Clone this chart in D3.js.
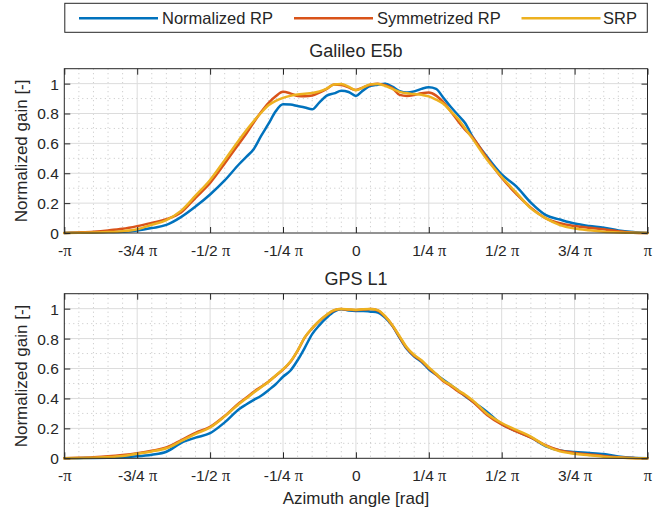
<!DOCTYPE html>
<html><head><meta charset="utf-8">
<script src="https://cdn.jsdelivr.net/npm/d3@7"></script>
<style>
body{margin:0;background:#fff}
text{font-family:"Liberation Sans",Arial,sans-serif;fill:#262626;white-space:pre}
</style>
</head><body><svg id="c" width="665" height="514"></svg>
<script>
// ---------------- data ----------------
const seriesNames = ["Normalized RP", "Symmetrized RP", "SRP"];
const panelTitles = ["Galileo E5b", "GPS L1"];
// azimuth in units of pi
const azimuth = [-1.00,-0.95,-0.90,-0.85,-0.80,-0.75,-0.70,-0.65,-0.60,-0.55,-0.50,-0.45,-0.40,
  -0.375,-0.35,-0.325,-0.30,-0.275,-0.25,-0.225,-0.20,-0.175,-0.15,-0.125,-0.10,-0.075,-0.05,-0.025,
  0,0.025,0.05,0.075,0.10,0.125,0.15,0.175,0.20,0.225,0.25,0.275,0.30,0.325,0.35,0.375,
  0.40,0.45,0.50,0.55,0.60,0.65,0.70,0.75,0.80,0.85,0.90,0.95,1.00];
const galNorm = [0,0.002,0.004,0.006,0.009,0.017,0.033,0.054,0.106,0.177,0.258,0.352,0.462,
  0.511,0.563,0.65,0.73,0.815,0.862,0.86,0.85,0.84,0.828,0.875,0.92,0.935,0.952,0.944,
  0.918,0.955,0.985,0.993,1.0,0.98,0.95,0.94,0.948,0.965,0.975,0.965,0.905,0.845,0.79,0.735,
  0.645,0.51,0.392,0.312,0.203,0.121,0.09,0.063,0.047,0.036,0.017,0.006,0];
const galSym = [0,0.004,0.009,0.017,0.028,0.046,0.068,0.092,0.137,0.236,0.335,0.465,0.601,
  0.668,0.742,0.81,0.87,0.915,0.945,0.935,0.918,0.916,0.92,0.94,0.965,0.995,0.99,0.975,
  0.957,0.975,0.993,1.0,0.99,0.97,0.925,0.918,0.925,0.935,0.94,0.92,0.875,0.815,0.75,0.69,
  0.64,0.5,0.37,0.262,0.17,0.10,0.065,0.047,0.035,0.025,0.012,0.002,0];
const galSrp = [0,0.001,0.003,0.006,0.012,0.025,0.055,0.087,0.148,0.25,0.355,0.488,0.625,
  0.69,0.75,0.805,0.855,0.885,0.905,0.918,0.927,0.932,0.937,0.948,0.967,0.995,0.997,0.98,
  0.956,0.975,0.995,0.998,0.985,0.965,0.945,0.935,0.93,0.925,0.915,0.893,0.865,0.815,0.765,0.70,
  0.632,0.49,0.375,0.27,0.165,0.10,0.053,0.03,0.018,0.009,0.004,0.001,0];
const gpsNorm = [0,0.001,0.002,0.004,0.007,0.013,0.024,0.044,0.102,0.138,0.168,0.24,0.33,
  0.361,0.39,0.418,0.455,0.495,0.545,0.585,0.655,0.74,0.83,0.89,0.94,0.98,0.996,0.988,
  0.985,0.985,0.98,0.975,0.94,0.885,0.805,0.73,0.68,0.645,0.595,0.56,0.525,0.49,0.455,0.415,
  0.38,0.31,0.228,0.181,0.14,0.082,0.052,0.042,0.036,0.028,0.012,0.003,0];
const gpsSym = [0,0.003,0.007,0.013,0.022,0.034,0.05,0.072,0.12,0.17,0.21,0.283,0.37,
  0.406,0.445,0.478,0.512,0.552,0.593,0.643,0.718,0.808,0.868,0.918,0.958,0.988,0.997,0.993,
  0.99,0.994,0.997,0.988,0.948,0.888,0.81,0.735,0.685,0.65,0.603,0.56,0.515,0.484,0.448,0.418,
  0.38,0.29,0.226,0.18,0.138,0.088,0.052,0.036,0.026,0.015,0.007,0.002,0];
const gpsSrp = [0,0.002,0.004,0.008,0.016,0.031,0.046,0.067,0.114,0.163,0.206,0.28,0.365,
  0.401,0.44,0.475,0.51,0.553,0.595,0.645,0.72,0.81,0.87,0.92,0.96,0.99,0.998,0.995,
  0.992,0.996,0.998,0.99,0.95,0.89,0.815,0.74,0.69,0.655,0.608,0.565,0.52,0.49,0.455,0.425,
  0.388,0.298,0.236,0.19,0.145,0.085,0.046,0.03,0.021,0.011,0.005,0.001,0];
const xTickValues = [-1,-0.75,-0.5,-0.25,0,0.25,0.5,0.75,1];
const xTickLabels = ["-π","-3/4 π","-1/2 π","-1/4 π","0","1/4 π","1/2 π","3/4 π","π"];
const yTickValues = [0,0.2,0.4,0.6,0.8,1];
const yTickLabels = ["0","0.2","0.4","0.6","0.8","1"];
const yLabel = "Normalized gain [-]";
const xLabel = "Azimuth angle [rad]";

// ---------------- layout ----------------
const colors = ["#0072BD","#D95319","#EDB120"];
const AX = "#262626";
const L = 64.3, R = 647.5;
const panels = [
  {top:68.7, bottom:233, titleY:56.7, data:[galNorm,galSym,galSrp]},
  {top:293.7, bottom:458.3, titleY:285, data:[gpsNorm,gpsSym,gpsSrp]}
];
const svg = d3.select("#c");
svg.append("rect").attr("width",665).attr("height",514).attr("fill","#fff");

const x = d3.scaleLinear().domain([-Math.PI, Math.PI]).range([L, R]);
const minorX = d3.range(-20,21).filter(i => i % 5 !== 0).map(i => i*Math.PI/20);
const minorY = [0.1,0.3,0.5,0.7,0.9];

panels.forEach((p, pi) => {
  const y = d3.scaleLinear().domain([0,1.1]).range([p.bottom, p.top]);
  const g = svg.append("g");
  // minor grid
  g.selectAll(".mx").data(minorX).join("line")
    .attr("x1", d=>x(d)).attr("x2", d=>x(d)).attr("y1", p.top).attr("y2", p.bottom)
    .attr("stroke","#c4c4c4").attr("stroke-width",1).attr("stroke-dasharray","1 3.5");
  g.selectAll(".my").data(minorY).join("line")
    .attr("y1", d=>y(d)).attr("y2", d=>y(d)).attr("x1", L).attr("x2", R)
    .attr("stroke","#c4c4c4").attr("stroke-width",1).attr("stroke-dasharray","1 3.5");
  // major grid
  g.selectAll(".gx").data(xTickValues.slice(1,-1)).join("line")
    .attr("x1", d=>x(d*Math.PI)).attr("x2", d=>x(d*Math.PI)).attr("y1", p.top).attr("y2", p.bottom)
    .attr("stroke","#dcdcdc").attr("stroke-width",1);
  g.selectAll(".gy").data(yTickValues.slice(1)).join("line")
    .attr("y1", d=>y(d)).attr("y2", d=>y(d)).attr("x1", L).attr("x2", R)
    .attr("stroke","#dcdcdc").attr("stroke-width",1);

  // series
  const line = d3.line().x((d,i)=>x(azimuth[i]*Math.PI)).y(d=>y(d)).curve(d3.curveMonotoneX);
  p.data.forEach((s, si) => {
    g.append("path").datum(s).attr("d", line).attr("fill","none")
      .attr("stroke", colors[si]).attr("stroke-width", 2.5)
      .attr("stroke-linejoin","round").attr("stroke-linecap","round");
  });

  // axes box + ticks
  const xt = xTickValues.map(v=>v*Math.PI);
  const bx = g.append("g").attr("transform",`translate(0,${p.bottom})`)
    .call(d3.axisBottom(x).tickValues(xt).tickSizeInner(-6).tickSizeOuter(0)
      .tickFormat((d,i)=>xTickLabels[i]));
  const tx = g.append("g").attr("transform",`translate(0,${p.top})`)
    .call(d3.axisTop(x).tickValues(xt).tickSizeInner(-6).tickSizeOuter(0).tickFormat(""));
  const ly = g.append("g").attr("transform",`translate(${L},0)`)
    .call(d3.axisLeft(y).tickValues(yTickValues).tickSizeInner(-6).tickSizeOuter(0)
      .tickFormat((d,i)=>yTickLabels[i]));
  const ry = g.append("g").attr("transform",`translate(${R},0)`)
    .call(d3.axisRight(y).tickValues(yTickValues).tickSizeInner(-6).tickSizeOuter(0).tickFormat(""));
  [bx,tx,ly,ry].forEach(a => {
    a.select(".domain").remove();
    a.selectAll(".tick line").attr("stroke", AX).attr("stroke-width",1);
  });
  bx.selectAll(".tick text").attr("y", 23).attr("dy", null)
    .attr("font-size", 15.5).attr("fill", AX)
    .each(function(d,i){
      const t = d3.select(this);
      const s = xTickLabels[i];
      t.text(null);
      if (s.includes("π")) {
        const parts = s.split("π");
        if (parts[0]) t.append("tspan").text(parts[0]);
        t.append("tspan").text("π").style("font-family","'Liberation Serif','Times New Roman',serif")
          .attr("font-size", 16.5);
      } else t.text(s);
    });
  ly.selectAll(".tick text").attr("x", -5.5).attr("dy","0.35em")
    .attr("font-size", 15.5).attr("fill", AX);
  g.append("rect").attr("x", L).attr("y", p.top).attr("width", R-L).attr("height", p.bottom-p.top)
    .attr("fill","none").attr("stroke", AX).attr("stroke-width", 1);

  // title & y label
  svg.append("text").attr("x", (L+R)/2).attr("y", p.titleY).attr("text-anchor","middle")
    .attr("font-size", 18).text(panelTitles[pi]);
  svg.append("text").attr("transform",`translate(27,${(p.top+p.bottom)/2}) rotate(-90)`)
    .attr("text-anchor","middle").attr("font-size", 17).text(yLabel);
});

svg.append("text").attr("x", (L+R)/2).attr("y", 504).attr("text-anchor","middle")
  .attr("font-size", 17).text(xLabel);

// legend
const lg = svg.append("g");
lg.append("rect").attr("x", 64.8).attr("y", 3.3).attr("width", 582.5).attr("height", 29)
  .attr("fill","#fff").attr("stroke", AX).attr("stroke-width", 1);
const legLineX = [79, 294, 521.5];
const legTextX = [162, 377, 603];
seriesNames.forEach((n, i) => {
  lg.append("line").attr("x1", legLineX[i]).attr("x2", legLineX[i]+79).attr("y1", 18.3).attr("y2", 18.3)
    .attr("stroke", colors[i]).attr("stroke-width", 2.5);
  lg.append("text").attr("x", legTextX[i]).attr("y", 24.3).attr("font-size", 16.5).text(n);
});
</script>
</body></html>
